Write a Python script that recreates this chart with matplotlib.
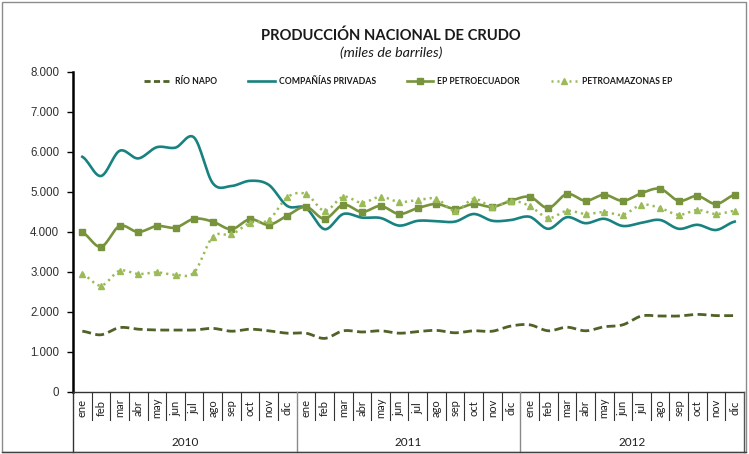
import numpy as np
import matplotlib
matplotlib.use("Agg")
import matplotlib.pyplot as plt
from matplotlib.transforms import blended_transform_factory
from matplotlib.lines import Line2D
from matplotlib.patches import Rectangle

months = ["ene", "feb", "mar", "abr", "may", "jun", "jul", "ago", "sep", "oct", "nov", "dic"]
years = ["2010", "2011", "2012"]

rio_napo = [1520, 1430, 1610, 1570, 1550, 1550, 1550, 1590, 1520, 1570, 1530, 1470,
            1470, 1340, 1530, 1500, 1530, 1470, 1510, 1540, 1480, 1530, 1520, 1650,
            1680, 1530, 1620, 1530, 1630, 1680, 1900, 1900, 1900, 1940, 1910, 1910]
privadas = [5880, 5400, 6030, 5840, 6120, 6110, 6360, 5220, 5150, 5280, 5180, 4650,
            4600, 4070, 4450, 4360, 4350, 4160, 4280, 4270, 4260, 4450, 4280, 4300,
            4380, 4080, 4370, 4220, 4330, 4150, 4230, 4300, 4080, 4180, 4050, 4260]
petroecuador = [3990, 3630, 4150, 4000, 4150, 4110, 4330, 4260, 4070, 4320, 4180, 4410,
                4630, 4330, 4680, 4500, 4650, 4450, 4600, 4700, 4580, 4700, 4630, 4780,
                4880, 4600, 4950, 4780, 4930, 4780, 4970, 5080, 4780, 4900, 4700, 4930]
petroamazonas = [2950, 2660, 3030, 2950, 2990, 2930, 2990, 3880, 3940, 4230, 4300, 4870,
                 4950, 4530, 4880, 4730, 4880, 4750, 4800, 4830, 4530, 4830, 4630, 4780,
                 4650, 4350, 4530, 4450, 4500, 4430, 4680, 4600, 4430, 4550, 4450, 4530]

labels = ["RÍO NAPO", "COMPAÑÍAS PRIVADAS", "EP PETROECUADOR", "PETROAMAZONAS EP"]
yticks = [0, 1000, 2000, 3000, 4000, 5000, 6000, 7000, 8000]

C_RIO = "#4f6228"
C_PRIV = "#17827f"
C_PEC = "#77933c"
C_PAM = "#9bbb59"


def smooth(y, n=16):
    """Catmull-Rom smoothing (like Excel's smoothed line)."""
    y = np.asarray(y, float)
    x = np.arange(len(y), dtype=float)
    P = np.concatenate([[y[0]], y, [y[-1]]])
    xs, ys = [], []
    for i in range(len(y) - 1):
        p0, p1, p2, p3 = P[i], P[i + 1], P[i + 2], P[i + 3]
        t = np.linspace(0, 1, n, endpoint=False)
        yy = 0.5 * ((2 * p1) + (-p0 + p2) * t + (2 * p0 - 5 * p1 + 4 * p2 - p3) * t ** 2
                    + (-p0 + 3 * p1 - 3 * p2 + p3) * t ** 3)
        xs.append(x[i] + t)
        ys.append(yy)
    xs.append([x[-1]])
    ys.append([y[-1]])
    return np.concatenate(xs), np.concatenate(ys)


fig = plt.figure(figsize=(7.49, 4.54), dpi=100)
W, H = 749, 454
ax = fig.add_axes([73 / W, (H - 392) / H, (744 - 73) / W, (392 - 72) / H])

x = np.arange(36)

# series
sx, sy = smooth(rio_napo)
ax.plot(sx, sy, color=C_RIO, lw=2.0, dashes=(3.2, 1.6), solid_capstyle="butt")
sx, sy = smooth(privadas)
ax.plot(sx, sy, color=C_PRIV, lw=1.9)
sx, sy = smooth(petroecuador)
ax.plot(sx, sy, color=C_PEC, lw=1.9)
ax.plot(x, petroecuador, ls="none", marker="s", ms=4, color=C_PEC)
sx, sy = smooth(petroamazonas)
ax.plot(sx, sy, color=C_PAM, lw=1.8, dashes=(0.9, 1.6))
ax.plot(x, petroamazonas, ls="none", marker="^", ms=4.2, color=C_PAM)

ax.set_xlim(-0.5, 35.5)
ax.set_ylim(0, 8000)
ax.set_yticks(yticks)
ax.set_yticklabels([f"{v:,}".replace(",", ".") for v in yticks],
                   fontfamily="Liberation Sans", fontsize=8.3, color="#303030")
ax.tick_params(axis="y", direction="out", length=4, width=1, color="black", pad=6)
ax.set_xticks([])
for s in ["top", "right"]:
    ax.spines[s].set_visible(False)
ax.spines["left"].set_linewidth(1.8)
ax.spines["left"].set_color("black")
ax.spines["bottom"].set_linewidth(1.0)
ax.spines["bottom"].set_color("#333333")

# category axis table
tr = blended_transform_factory(ax.transData, fig.transFigure)


def fy(px):
    return (H - px) / H


for i in range(35):
    xb = i + 0.5
    if i in (11, 23):
        fig.add_artist(Line2D([xb, xb], [fy(392), fy(452)], transform=tr, color="#8a8a8a", lw=1.0))
    else:
        fig.add_artist(Line2D([xb, xb], [fy(392), fy(420)], transform=tr, color="#333333", lw=0.8))
fig.add_artist(Line2D([-0.5, -0.5], [fy(392), fy(452)], transform=tr, color="#333333", lw=1.0))
fig.add_artist(Line2D([35.5, 35.5], [fy(392), fy(452)], transform=tr, color="#555555", lw=1.0))

for i in range(36):
    fig.text(i, fy(408), months[i % 12], transform=tr, rotation=90, ha="center", va="center",
             fontfamily="Lato", fontsize=8, color="#202020")
for j, yr in enumerate(years):
    fig.text(12 * j + 5.5, fy(442), yr, transform=tr, ha="center", va="center",
             fontfamily="Lato", fontsize=8.5, color="#202020")

# chart border
fig.add_artist(Rectangle((2 / W, fy(452)), (746 - 2) / W, (452 - 2) / H, transform=fig.transFigure,
                         fill=False, edgecolor="#8c8c8c", lw=1.0))
fig.add_artist(Line2D([2 / W, 746 / W], [fy(452), fy(452)], transform=fig.transFigure,
                      color="#404040", lw=1.0))

# titles
fig.text(391 / W, fy(36), "PRODUCCIÓN NACIONAL DE CRUDO", ha="center", va="center",
         fontfamily="Lato", fontweight="bold", fontsize=10.6, color="#1a1a1a")
fig.text(391 / W, fy(53), "(miles de barriles)", ha="center", va="center",
         fontfamily="Lato", fontstyle="italic", fontsize=10.3, color="#1a1a1a")

# legend
handles = [
    Line2D([], [], color=C_RIO, lw=2.0, dashes=(2.2, 1.2)),
    Line2D([], [], color=C_PRIV, lw=1.9),
    Line2D([], [], color=C_PEC, lw=1.9, marker="s", ms=4),
    Line2D([], [], color=C_PAM, lw=1.8, dashes=(0.8, 1.6), marker="^", ms=4.2),
]
leg = fig.legend(handles, labels, loc="center", bbox_to_anchor=(408 / W, fy(82)), ncol=4,
                 frameon=False, handlelength=3.1, handletextpad=0.47, columnspacing=3.6,
                 prop={"family": "Lato", "weight": "bold", "size": 6.2})
for t in leg.get_texts():
    t.set_color("#1a1a1a")

fig.savefig("out.png", dpi=100)
